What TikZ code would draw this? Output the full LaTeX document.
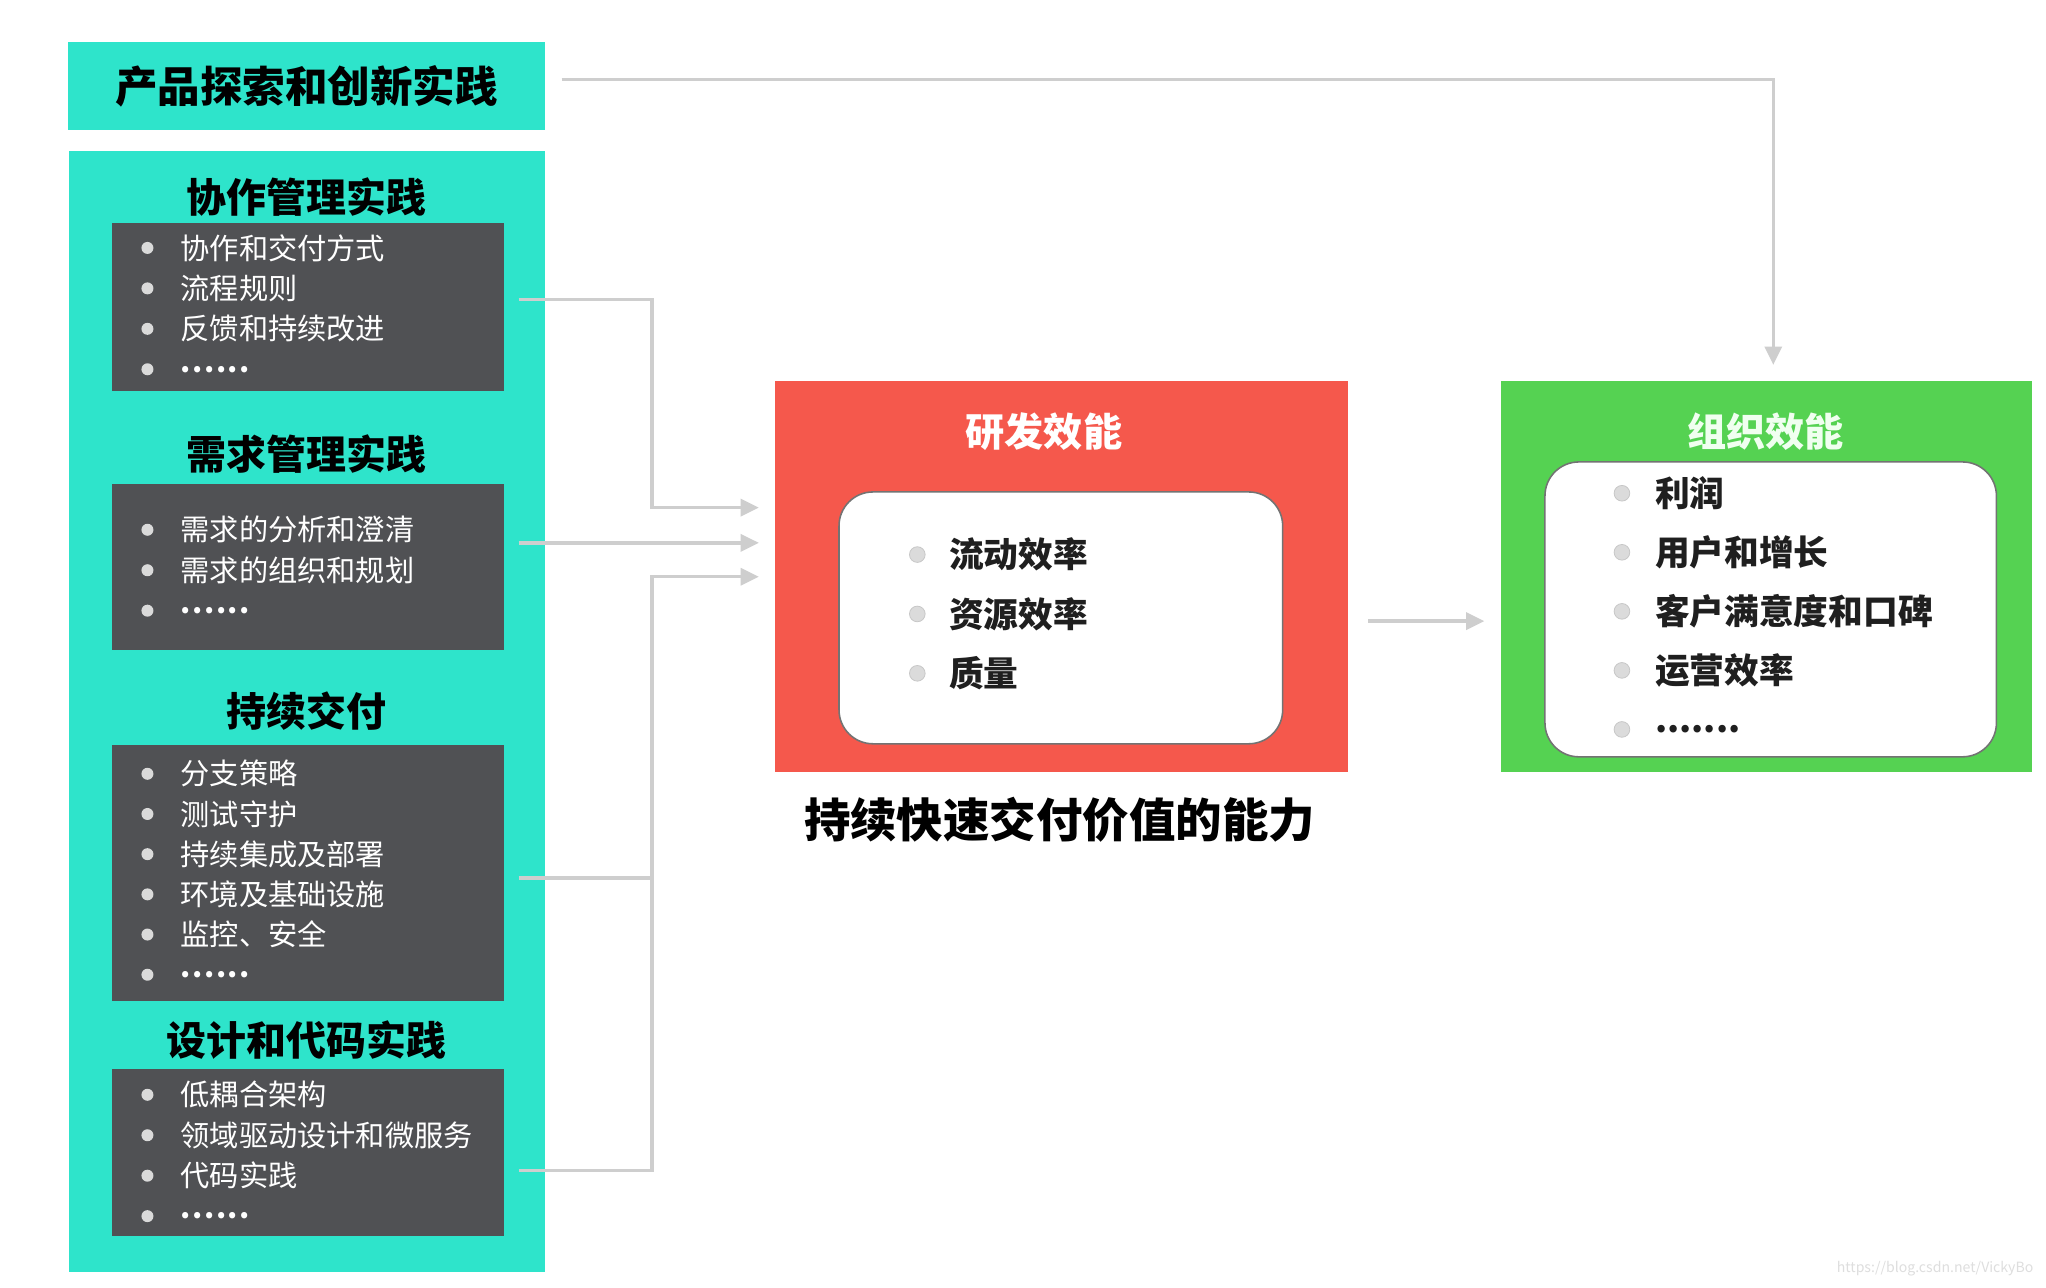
\documentclass[tikz,border=0pt]{standalone}
\usepackage{fontspec}
\setmainfont{Noto Sans CJK SC}
\usetikzlibrary{arrows.meta}

\definecolor{practicecyan}{RGB}{46,228,203}
\definecolor{listgrey}{RGB}{80,81,84}
\definecolor{dotgrey}{RGB}{218,218,218}
\definecolor{rdred}{RGB}{245,88,76}
\definecolor{orggreen}{RGB}{85,210,82}
\definecolor{linkgrey}{RGB}{206,206,206}

\newcommand{\sixdots}{\raisebox{-0.6pt}{\bfseries .\kern0.6pt.\kern0.6pt.\kern0.6pt.\kern0.6pt.\kern0.6pt.}}
\newcommand{\sevendots}{.......}

\tikzset{
  practice/.style={fill=practicecyan, inner sep=0pt},
  listbox/.style={fill=listgrey, minimum width=150pt, inner sep=0pt},
  secttitle/.style={font=\fontsize{15.3}{17}\selectfont\bfseries, text=black},
  darkitem/.style={anchor=west, inner sep=0pt, text=white, font=\fontsize{11.2}{13}\selectfont},
  whiteitem/.style={anchor=west, inner sep=0pt, text=black!88, font=\fontsize{13.3}{15}\selectfont\bfseries},
  whitedot/.style={fill=black!14, draw=black!22, line width=0.3pt},
  resultbox/.style={minimum height=150pt, inner sep=0pt},
  listcard/.style={fill=white, draw=black!55, line width=0.6pt, rounded corners=13pt, inner sep=0pt},
  linkline/.style={draw=linkgrey, line width=1.3pt},
  arrowline/.style={linkline, -{Triangle[length=7pt,width=6.5pt]}},
}

\begin{document}
\begin{tikzpicture}[x=0.5pt, y=-0.5pt]
    % Page frame
    \path[use as bounding box, fill=white] (0,0) rectangle (1568,987);

    % Top practice box
    \node[practice, minimum width=183pt, minimum height=34pt,
          font=\fontsize{16.3}{18}\selectfont\bfseries] (explore) at (235,66) {产品探索和创新实践};

    % Column of practices
    \node[practice, minimum width=182.5pt, minimum height=429.5pt] (practices) at (235.5,545.5) {};

    % Section titles
    \node[secttitle] (collabtitle) at (235,151) {协作管理实践};
    \node[secttitle] (reqtitle) at (235,348) {需求管理实践};
    \node[secttitle] (deliverytitle) at (235,545) {持续交付};
    \node[secttitle] (designtitle) at (235,797) {设计和代码实践};

    % Dark list boxes
    \node[listbox, minimum height=64.5pt] (collab) at (236,235.5) {};
    \node[listbox, minimum height=63.5pt] (req) at (236,434.5) {};
    \node[listbox, minimum height=98pt] (delivery) at (236,669) {};
    \node[listbox, minimum height=64pt] (design) at (236,883) {};

    % Items of each list
    \foreach \txt [count=\i] in {协作和交付方式, 流程规则, 反馈和持续改进, \sixdots} {
        \fill[dotgrey] (113,159+31*\i) circle (2.3pt);
        \node[darkitem] (collab\i) at (138,159+31*\i) {\txt};
    }
    \foreach \txt [count=\i] in {需求的分析和澄清, 需求的组织和规划, \sixdots} {
        \fill[dotgrey] (113,375+31*\i) circle (2.3pt);
        \node[darkitem] (req\i) at (138,375+31*\i) {\txt};
    }
    \foreach \txt [count=\i] in {分支策略, 测试守护, 持续集成及部署, 环境及基础设施, 监控、安全, \sixdots} {
        \fill[dotgrey] (113,562.2+30.8*\i) circle (2.3pt);
        \node[darkitem] (delivery\i) at (138,562.2+30.8*\i) {\txt};
    }
    \foreach \txt [count=\i] in {低耦合架构, 领域驱动设计和微服务, 代码实践, \sixdots} {
        \fill[dotgrey] (113,808+31*\i) circle (2.3pt);
        \node[darkitem] (design\i) at (138,808+31*\i) {\txt};
    }

    % R&D efficiency box
    \node[resultbox, fill=rdred, minimum width=219.5pt] (rd) at (813.5,442) {};
    \node[text=white, font=\fontsize{15}{17}\selectfont\bfseries] (rdtitle) at (800,331) {研发效能};
    \node[listcard, minimum width=170pt, minimum height=96.5pt] (rdlist) at (813,473.5) {};
    \foreach \txt [count=\i] in {流动效率, 资源效率, 质量} {
        \filldraw[whitedot] (703,379.5+45.5*\i) circle (3pt);
        \node[whiteitem] (rd\i) at (727,379.5+45.5*\i) {\txt};
    }

    % Caption under it
    \node[font=\fontsize{17.8}{20}\selectfont\bfseries] (ability) at (812,628) {持续快速交付价值的能力};

    % Organisation efficiency box
    \node[resultbox, fill=orggreen, minimum width=203.5pt] (org) at (1353.5,442) {};
    \node[text=green!6, font=\fontsize{15}{17}\selectfont\bfseries] (orgtitle) at (1353,331) {组织效能};
    \node[listcard, minimum width=173pt, minimum height=113pt] (orglist) at (1357,467) {};
    \foreach \txt [count=\i] in {利润, 用户和增长, 客户满意度和口碑, 运营效率, \sevendots} {
        \filldraw[whitedot] (1243,332.75+45.25*\i) circle (3pt);
        \node[whiteitem] (org\i) at (1268,332.75+45.25*\i) {\txt};
    }

    % Arrow ends in front of the R&D box
    \coordinate (in1) at ([xshift=-6pt,yshift=26.5pt]rd.west);
    \coordinate (in2) at ([xshift=-6pt,yshift=13pt]rd.west);
    \coordinate (in3) at ([xshift=-6pt]rd.west);
    \coordinate (bus) at ([xshift=-41pt]in3);

    % Practices feed the R&D box
    \draw[arrowline] ([xshift=5.5pt,yshift=3pt]collab.east) -| ([xshift=-41pt]in1) -- (in1);
    \draw[arrowline] ([xshift=5.5pt,yshift=9.25pt]req.east) -- (in2);
    \draw[linkline] ([xshift=5.5pt,yshift=-2pt]delivery.east) coordinate (d3) -- (d3 -| bus);
    \draw[arrowline] ([xshift=5.5pt,yshift=-7pt]design.east) -| (bus) -- (in3);

    % R&D box to organisation box
    \draw[arrowline] ([xshift=7.5pt,yshift=-17pt]rd.east) -- ([xshift=-6pt,yshift=-17pt]org.west);

    % Product exploration straight to organisation box
    \draw[arrowline] ([xshift=6pt,yshift=2.5pt]explore.east) -| ([xshift=2.75pt,yshift=6pt]org.north);

    % Source mark
    \node[text=black!13, font=\fontsize{5.4}{6}\selectfont] (watermark) at (1483,972) {https://blog.csdn.net/VickyBo};
\end{tikzpicture}
\end{document}
